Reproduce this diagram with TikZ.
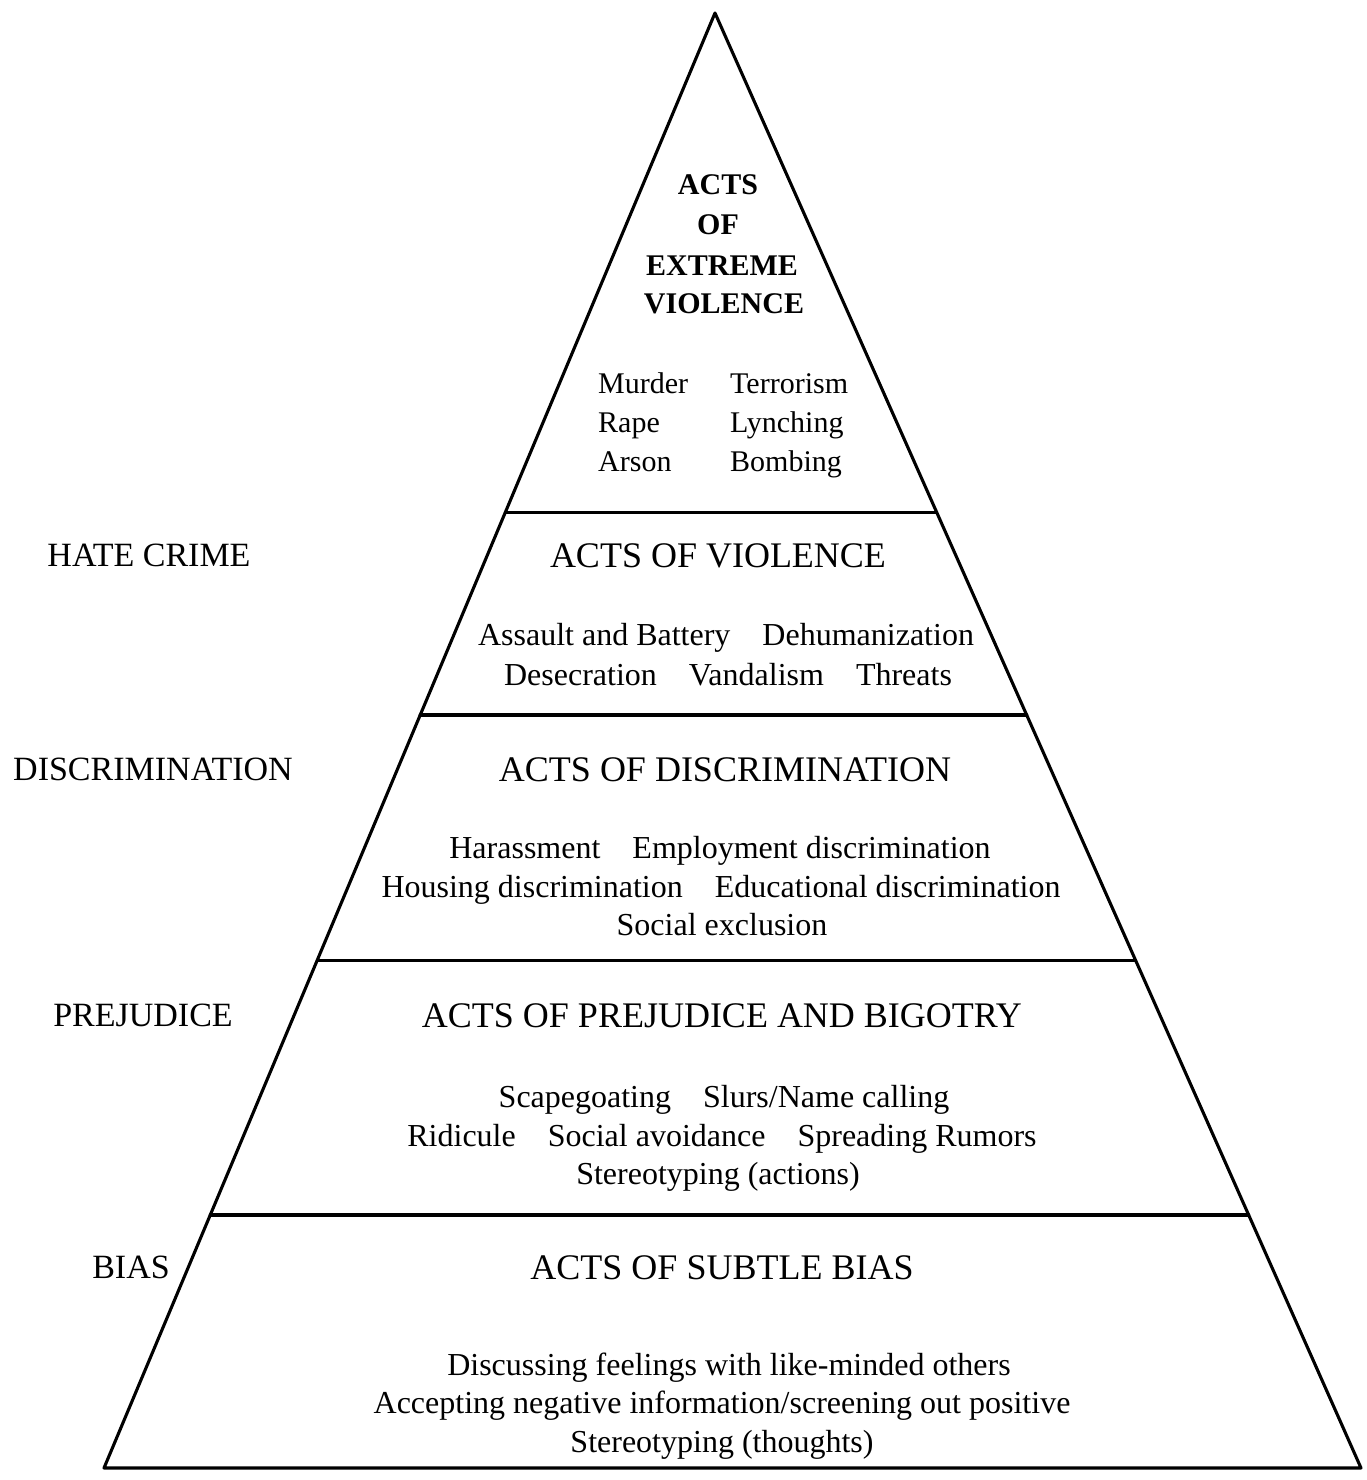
\documentclass[tikz,border=0pt]{standalone}
\usepackage{fontspec}
\setmainfont{Liberation Serif}
\usetikzlibrary{calc}
\tikzset{
  edge/.style={line width=3.1pt, line join=round, line cap=round},
  sidelabel/.style={font=\fontsize{34}{40}\selectfont, anchor=base, inner sep=0pt},
  heading/.style={font=\fontsize{36}{40}\selectfont, anchor=base, inner sep=0pt},
  topheading/.style={font=\bfseries\fontsize{30}{40}\selectfont, anchor=base, inner sep=0pt},
  item/.style={font=\fontsize{32}{39}\selectfont, anchor=base, inner sep=0pt},
  itemL/.style={font=\fontsize{30}{39}\selectfont, anchor=base west, inner sep=0pt}
}
\begin{document}
\begin{tikzpicture}[x=1pt,y=-1pt]
\useasboundingbox (0,0) rectangle (1366,1480);
% pyramid corners
\coordinate (apex) at (715,13);
\coordinate (bl) at (104,1468);
\coordinate (br) at (1361,1468);
\draw[edge] (bl) -- (apex) -- (br) -- cycle;
% level dividers
\foreach \t/\n in {0.3430/a,0.4825/b,0.6509/c,0.8261/d}{
  \coordinate (L\n) at ($(apex)!\t!(bl)$);
  \coordinate (R\n) at ($(apex)!\t!(br)$);
  \draw[edge] (L\n) -- (R\n);
}
% top level
\node[topheading] (t1) at (718,194) {ACTS};
\node[topheading] (t2) at (718,234) {OF};
\node[topheading] (t3) at (722,275) {EXTREME};
\node[topheading] (t4) at (724,313) {VIOLENCE};
\node[itemL] (m1) at (598,393) {Murder};
\node[itemL] (m2) at (730,393) {Terrorism};
\node[itemL] (m3) at (598,432) {Rape};
\node[itemL] (m4) at (730,432) {Lynching};
\node[itemL] (m5) at (598,471) {Arson};
\node[itemL] (m6) at (730,471) {Bombing};
% hate crime
\node[sidelabel] (s1) at (149,566) {HATE CRIME};
\node[heading] (h2) at (718,567) {ACTS OF VIOLENCE};
\node[item] (v1) at (726,645) {Assault and Battery\quad Dehumanization};
\node[item] (v2) at (728,685) {Desecration\quad Vandalism\quad Threats};
% discrimination
\node[sidelabel] (s2) at (153,780) {DISCRIMINATION};
\node[heading] (h3) at (725,781) {ACTS OF DISCRIMINATION};
\node[item] (d1) at (720,858) {Harassment\quad Employment discrimination};
\node[item] (d2) at (721,897) {Housing discrimination\quad Educational discrimination};
\node[item] (d3) at (722,935) {Social exclusion};
% prejudice
\node[sidelabel] (s3) at (143,1026) {PREJUDICE};
\node[heading] (h4) at (722,1027) {ACTS OF PREJUDICE AND BIGOTRY};
\node[item] (p1) at (724,1107) {Scapegoating\quad Slurs/Name calling};
\node[item] (p2) at (722,1146) {Ridicule\quad Social avoidance\quad Spreading Rumors};
\node[item] (p3) at (718,1184) {Stereotyping (actions)};
% bias
\node[sidelabel] (s4) at (131,1278) {BIAS};
\node[heading] (h5) at (722,1279) {ACTS OF SUBTLE BIAS};
\node[item] (b1) at (729,1375) {Discussing feelings with like-minded others};
\node[item] (b2) at (722,1413) {Accepting negative information/screening out positive};
\node[item] (b3) at (722,1452) {Stereotyping (thoughts)};
\end{tikzpicture}
\end{document}
